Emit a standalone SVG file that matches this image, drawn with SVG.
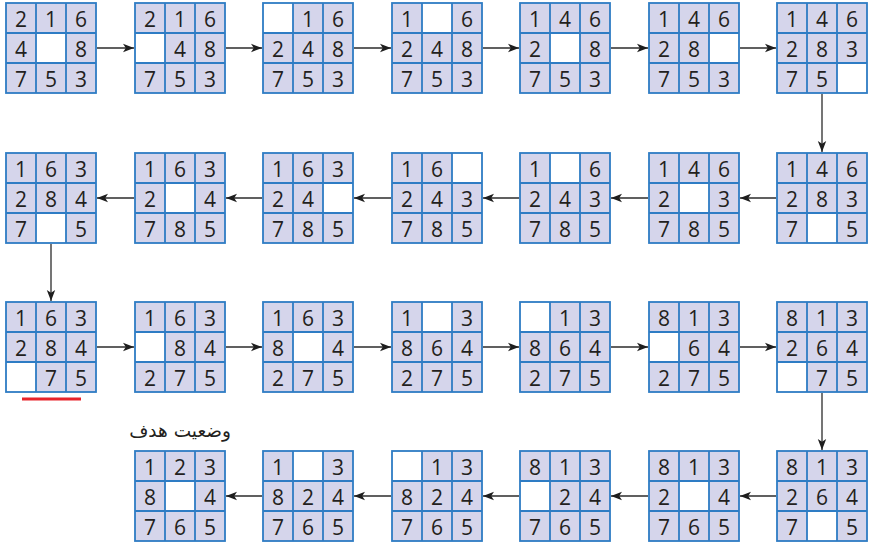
<svg xmlns="http://www.w3.org/2000/svg" xmlns:xlink="http://www.w3.org/1999/xlink" width="870" height="542" viewBox="0 0 870 542">
<style>
.bg{fill:#d5d5eb}
.bl{fill:#ffffff}
.gr{fill:none;stroke:#2e7cc4;stroke-width:1.8}
.n{font-family:"Open Sans","Noto Sans","DejaVu Sans",sans-serif;font-size:21px;fill:#231f20;text-anchor:middle}
.c{stroke:#2b2b2b;stroke-width:1.3;fill:none;marker-end:url(#ah)}
.lbl{font-family:"DejaVu Sans",sans-serif;font-size:18.5px;fill:#231f20;text-anchor:end}
</style>
<defs>
<marker id="ah" markerWidth="12" markerHeight="10" refX="11" refY="5" orient="auto" markerUnits="userSpaceOnUse">
<path d="M0,0.8 L11,5 L0,9.2 L2.8,5 z" fill="#1e1e1e"/>
</marker>
<g id="grid">
<rect class="gr" x="0" y="0" width="90" height="90"/>
<path class="gr" d="M30,0V90M60,0V90M0,30H90M0,60H90"/>
</g>
</defs>

<!-- Row 1 -->
<g id="r1c1" transform="translate(6,3)"><rect class="bg" width="90" height="90"/><rect class="bl" x="30" y="30" width="30" height="30"/><use href="#grid"/>
<text class="n" x="15" y="23.5">2</text><text class="n" x="45" y="23.5">1</text><text class="n" x="75" y="23.5">6</text>
<text class="n" x="15" y="53.5">4</text><text class="n" x="75" y="53.5">8</text>
<text class="n" x="15" y="83.5">7</text><text class="n" x="45" y="83.5">5</text><text class="n" x="75" y="83.5">3</text></g>
<g id="r1c2" transform="translate(135,3)"><rect class="bg" width="90" height="90"/><rect class="bl" x="0" y="30" width="30" height="30"/><use href="#grid"/>
<text class="n" x="15" y="23.5">2</text><text class="n" x="45" y="23.5">1</text><text class="n" x="75" y="23.5">6</text>
<text class="n" x="45" y="53.5">4</text><text class="n" x="75" y="53.5">8</text>
<text class="n" x="15" y="83.5">7</text><text class="n" x="45" y="83.5">5</text><text class="n" x="75" y="83.5">3</text></g>
<g id="r1c3" transform="translate(263,3)"><rect class="bg" width="90" height="90"/><rect class="bl" x="0" y="0" width="30" height="30"/><use href="#grid"/>
<text class="n" x="45" y="23.5">1</text><text class="n" x="75" y="23.5">6</text>
<text class="n" x="15" y="53.5">2</text><text class="n" x="45" y="53.5">4</text><text class="n" x="75" y="53.5">8</text>
<text class="n" x="15" y="83.5">7</text><text class="n" x="45" y="83.5">5</text><text class="n" x="75" y="83.5">3</text></g>
<g id="r1c4" transform="translate(392,3)"><rect class="bg" width="90" height="90"/><rect class="bl" x="30" y="0" width="30" height="30"/><use href="#grid"/>
<text class="n" x="15" y="23.5">1</text><text class="n" x="75" y="23.5">6</text>
<text class="n" x="15" y="53.5">2</text><text class="n" x="45" y="53.5">4</text><text class="n" x="75" y="53.5">8</text>
<text class="n" x="15" y="83.5">7</text><text class="n" x="45" y="83.5">5</text><text class="n" x="75" y="83.5">3</text></g>
<g id="r1c5" transform="translate(520,3)"><rect class="bg" width="90" height="90"/><rect class="bl" x="30" y="30" width="30" height="30"/><use href="#grid"/>
<text class="n" x="15" y="23.5">1</text><text class="n" x="45" y="23.5">4</text><text class="n" x="75" y="23.5">6</text>
<text class="n" x="15" y="53.5">2</text><text class="n" x="75" y="53.5">8</text>
<text class="n" x="15" y="83.5">7</text><text class="n" x="45" y="83.5">5</text><text class="n" x="75" y="83.5">3</text></g>
<g id="r1c6" transform="translate(649,3)"><rect class="bg" width="90" height="90"/><rect class="bl" x="60" y="30" width="30" height="30"/><use href="#grid"/>
<text class="n" x="15" y="23.5">1</text><text class="n" x="45" y="23.5">4</text><text class="n" x="75" y="23.5">6</text>
<text class="n" x="15" y="53.5">2</text><text class="n" x="45" y="53.5">8</text>
<text class="n" x="15" y="83.5">7</text><text class="n" x="45" y="83.5">5</text><text class="n" x="75" y="83.5">3</text></g>
<g id="r1c7" transform="translate(777,3)"><rect class="bg" width="90" height="90"/><rect class="bl" x="60" y="60" width="30" height="30"/><use href="#grid"/>
<text class="n" x="15" y="23.5">1</text><text class="n" x="45" y="23.5">4</text><text class="n" x="75" y="23.5">6</text>
<text class="n" x="15" y="53.5">2</text><text class="n" x="45" y="53.5">8</text><text class="n" x="75" y="53.5">3</text>
<text class="n" x="15" y="83.5">7</text><text class="n" x="45" y="83.5">5</text></g>

<!-- Row 2 -->
<g id="r2c1" transform="translate(6,153)"><rect class="bg" width="90" height="90"/><rect class="bl" x="30" y="60" width="30" height="30"/><use href="#grid"/>
<text class="n" x="15" y="23.5">1</text><text class="n" x="45" y="23.5">6</text><text class="n" x="75" y="23.5">3</text>
<text class="n" x="15" y="53.5">2</text><text class="n" x="45" y="53.5">8</text><text class="n" x="75" y="53.5">4</text>
<text class="n" x="15" y="83.5">7</text><text class="n" x="75" y="83.5">5</text></g>
<g id="r2c2" transform="translate(135,153)"><rect class="bg" width="90" height="90"/><rect class="bl" x="30" y="30" width="30" height="30"/><use href="#grid"/>
<text class="n" x="15" y="23.5">1</text><text class="n" x="45" y="23.5">6</text><text class="n" x="75" y="23.5">3</text>
<text class="n" x="15" y="53.5">2</text><text class="n" x="75" y="53.5">4</text>
<text class="n" x="15" y="83.5">7</text><text class="n" x="45" y="83.5">8</text><text class="n" x="75" y="83.5">5</text></g>
<g id="r2c3" transform="translate(263,153)"><rect class="bg" width="90" height="90"/><rect class="bl" x="60" y="30" width="30" height="30"/><use href="#grid"/>
<text class="n" x="15" y="23.5">1</text><text class="n" x="45" y="23.5">6</text><text class="n" x="75" y="23.5">3</text>
<text class="n" x="15" y="53.5">2</text><text class="n" x="45" y="53.5">4</text>
<text class="n" x="15" y="83.5">7</text><text class="n" x="45" y="83.5">8</text><text class="n" x="75" y="83.5">5</text></g>
<g id="r2c4" transform="translate(392,153)"><rect class="bg" width="90" height="90"/><rect class="bl" x="60" y="0" width="30" height="30"/><use href="#grid"/>
<text class="n" x="15" y="23.5">1</text><text class="n" x="45" y="23.5">6</text>
<text class="n" x="15" y="53.5">2</text><text class="n" x="45" y="53.5">4</text><text class="n" x="75" y="53.5">3</text>
<text class="n" x="15" y="83.5">7</text><text class="n" x="45" y="83.5">8</text><text class="n" x="75" y="83.5">5</text></g>
<g id="r2c5" transform="translate(520,153)"><rect class="bg" width="90" height="90"/><rect class="bl" x="30" y="0" width="30" height="30"/><use href="#grid"/>
<text class="n" x="15" y="23.5">1</text><text class="n" x="75" y="23.5">6</text>
<text class="n" x="15" y="53.5">2</text><text class="n" x="45" y="53.5">4</text><text class="n" x="75" y="53.5">3</text>
<text class="n" x="15" y="83.5">7</text><text class="n" x="45" y="83.5">8</text><text class="n" x="75" y="83.5">5</text></g>
<g id="r2c6" transform="translate(649,153)"><rect class="bg" width="90" height="90"/><rect class="bl" x="30" y="30" width="30" height="30"/><use href="#grid"/>
<text class="n" x="15" y="23.5">1</text><text class="n" x="45" y="23.5">4</text><text class="n" x="75" y="23.5">6</text>
<text class="n" x="15" y="53.5">2</text><text class="n" x="75" y="53.5">3</text>
<text class="n" x="15" y="83.5">7</text><text class="n" x="45" y="83.5">8</text><text class="n" x="75" y="83.5">5</text></g>
<g id="r2c7" transform="translate(777,153)"><rect class="bg" width="90" height="90"/><rect class="bl" x="30" y="60" width="30" height="30"/><use href="#grid"/>
<text class="n" x="15" y="23.5">1</text><text class="n" x="45" y="23.5">4</text><text class="n" x="75" y="23.5">6</text>
<text class="n" x="15" y="53.5">2</text><text class="n" x="45" y="53.5">8</text><text class="n" x="75" y="53.5">3</text>
<text class="n" x="15" y="83.5">7</text><text class="n" x="75" y="83.5">5</text></g>

<!-- Row 3 -->
<g id="r3c1" transform="translate(6,302)"><rect class="bg" width="90" height="90"/><rect class="bl" x="0" y="60" width="30" height="30"/><use href="#grid"/>
<text class="n" x="15" y="23.5">1</text><text class="n" x="45" y="23.5">6</text><text class="n" x="75" y="23.5">3</text>
<text class="n" x="15" y="53.5">2</text><text class="n" x="45" y="53.5">8</text><text class="n" x="75" y="53.5">4</text>
<text class="n" x="45" y="83.5">7</text><text class="n" x="75" y="83.5">5</text></g>
<g id="r3c2" transform="translate(135,302)"><rect class="bg" width="90" height="90"/><rect class="bl" x="0" y="30" width="30" height="30"/><use href="#grid"/>
<text class="n" x="15" y="23.5">1</text><text class="n" x="45" y="23.5">6</text><text class="n" x="75" y="23.5">3</text>
<text class="n" x="45" y="53.5">8</text><text class="n" x="75" y="53.5">4</text>
<text class="n" x="15" y="83.5">2</text><text class="n" x="45" y="83.5">7</text><text class="n" x="75" y="83.5">5</text></g>
<g id="r3c3" transform="translate(263,302)"><rect class="bg" width="90" height="90"/><rect class="bl" x="30" y="30" width="30" height="30"/><use href="#grid"/>
<text class="n" x="15" y="23.5">1</text><text class="n" x="45" y="23.5">6</text><text class="n" x="75" y="23.5">3</text>
<text class="n" x="15" y="53.5">8</text><text class="n" x="75" y="53.5">4</text>
<text class="n" x="15" y="83.5">2</text><text class="n" x="45" y="83.5">7</text><text class="n" x="75" y="83.5">5</text></g>
<g id="r3c4" transform="translate(392,302)"><rect class="bg" width="90" height="90"/><rect class="bl" x="30" y="0" width="30" height="30"/><use href="#grid"/>
<text class="n" x="15" y="23.5">1</text><text class="n" x="75" y="23.5">3</text>
<text class="n" x="15" y="53.5">8</text><text class="n" x="45" y="53.5">6</text><text class="n" x="75" y="53.5">4</text>
<text class="n" x="15" y="83.5">2</text><text class="n" x="45" y="83.5">7</text><text class="n" x="75" y="83.5">5</text></g>
<g id="r3c5" transform="translate(520,302)"><rect class="bg" width="90" height="90"/><rect class="bl" x="0" y="0" width="30" height="30"/><use href="#grid"/>
<text class="n" x="45" y="23.5">1</text><text class="n" x="75" y="23.5">3</text>
<text class="n" x="15" y="53.5">8</text><text class="n" x="45" y="53.5">6</text><text class="n" x="75" y="53.5">4</text>
<text class="n" x="15" y="83.5">2</text><text class="n" x="45" y="83.5">7</text><text class="n" x="75" y="83.5">5</text></g>
<g id="r3c6" transform="translate(649,302)"><rect class="bg" width="90" height="90"/><rect class="bl" x="0" y="30" width="30" height="30"/><use href="#grid"/>
<text class="n" x="15" y="23.5">8</text><text class="n" x="45" y="23.5">1</text><text class="n" x="75" y="23.5">3</text>
<text class="n" x="45" y="53.5">6</text><text class="n" x="75" y="53.5">4</text>
<text class="n" x="15" y="83.5">2</text><text class="n" x="45" y="83.5">7</text><text class="n" x="75" y="83.5">5</text></g>
<g id="r3c7" transform="translate(777,302)"><rect class="bg" width="90" height="90"/><rect class="bl" x="0" y="60" width="30" height="30"/><use href="#grid"/>
<text class="n" x="15" y="23.5">8</text><text class="n" x="45" y="23.5">1</text><text class="n" x="75" y="23.5">3</text>
<text class="n" x="15" y="53.5">2</text><text class="n" x="45" y="53.5">6</text><text class="n" x="75" y="53.5">4</text>
<text class="n" x="45" y="83.5">7</text><text class="n" x="75" y="83.5">5</text></g>

<!-- Row 4 -->
<g id="r4c2" transform="translate(135,451)"><rect class="bg" width="90" height="90"/><rect class="bl" x="30" y="30" width="30" height="30"/><use href="#grid"/>
<text class="n" x="15" y="23.5">1</text><text class="n" x="45" y="23.5">2</text><text class="n" x="75" y="23.5">3</text>
<text class="n" x="15" y="53.5">8</text><text class="n" x="75" y="53.5">4</text>
<text class="n" x="15" y="83.5">7</text><text class="n" x="45" y="83.5">6</text><text class="n" x="75" y="83.5">5</text></g>
<g id="r4c3" transform="translate(263,451)"><rect class="bg" width="90" height="90"/><rect class="bl" x="30" y="0" width="30" height="30"/><use href="#grid"/>
<text class="n" x="15" y="23.5">1</text><text class="n" x="75" y="23.5">3</text>
<text class="n" x="15" y="53.5">8</text><text class="n" x="45" y="53.5">2</text><text class="n" x="75" y="53.5">4</text>
<text class="n" x="15" y="83.5">7</text><text class="n" x="45" y="83.5">6</text><text class="n" x="75" y="83.5">5</text></g>
<g id="r4c4" transform="translate(392,451)"><rect class="bg" width="90" height="90"/><rect class="bl" x="0" y="0" width="30" height="30"/><use href="#grid"/>
<text class="n" x="45" y="23.5">1</text><text class="n" x="75" y="23.5">3</text>
<text class="n" x="15" y="53.5">8</text><text class="n" x="45" y="53.5">2</text><text class="n" x="75" y="53.5">4</text>
<text class="n" x="15" y="83.5">7</text><text class="n" x="45" y="83.5">6</text><text class="n" x="75" y="83.5">5</text></g>
<g id="r4c5" transform="translate(520,451)"><rect class="bg" width="90" height="90"/><rect class="bl" x="0" y="30" width="30" height="30"/><use href="#grid"/>
<text class="n" x="15" y="23.5">8</text><text class="n" x="45" y="23.5">1</text><text class="n" x="75" y="23.5">3</text>
<text class="n" x="45" y="53.5">2</text><text class="n" x="75" y="53.5">4</text>
<text class="n" x="15" y="83.5">7</text><text class="n" x="45" y="83.5">6</text><text class="n" x="75" y="83.5">5</text></g>
<g id="r4c6" transform="translate(649,451)"><rect class="bg" width="90" height="90"/><rect class="bl" x="30" y="30" width="30" height="30"/><use href="#grid"/>
<text class="n" x="15" y="23.5">8</text><text class="n" x="45" y="23.5">1</text><text class="n" x="75" y="23.5">3</text>
<text class="n" x="15" y="53.5">2</text><text class="n" x="75" y="53.5">4</text>
<text class="n" x="15" y="83.5">7</text><text class="n" x="45" y="83.5">6</text><text class="n" x="75" y="83.5">5</text></g>
<g id="r4c7" transform="translate(777,451)"><rect class="bg" width="90" height="90"/><rect class="bl" x="30" y="60" width="30" height="30"/><use href="#grid"/>
<text class="n" x="15" y="23.5">8</text><text class="n" x="45" y="23.5">1</text><text class="n" x="75" y="23.5">3</text>
<text class="n" x="15" y="53.5">2</text><text class="n" x="45" y="53.5">6</text><text class="n" x="75" y="53.5">4</text>
<text class="n" x="15" y="83.5">7</text><text class="n" x="75" y="83.5">5</text></g>

<!-- Connectors -->
<g id="connectors">
<line class="c" x1="97" y1="48" x2="134" y2="48"/>
<line class="c" x1="226" y1="48" x2="262" y2="48"/>
<line class="c" x1="354" y1="48" x2="391" y2="48"/>
<line class="c" x1="483" y1="48" x2="519" y2="48"/>
<line class="c" x1="611" y1="48" x2="648" y2="48"/>
<line class="c" x1="740" y1="48" x2="776" y2="48"/>
<line class="c" x1="822" y1="94" x2="822" y2="152"/>
<line class="c" x1="776" y1="198" x2="740" y2="198"/>
<line class="c" x1="648" y1="198" x2="611" y2="198"/>
<line class="c" x1="519" y1="198" x2="483" y2="198"/>
<line class="c" x1="391" y1="198" x2="354" y2="198"/>
<line class="c" x1="262" y1="198" x2="226" y2="198"/>
<line class="c" x1="134" y1="198" x2="97" y2="198"/>
<line class="c" x1="51" y1="244" x2="51" y2="301"/>
<line class="c" x1="97" y1="347" x2="134" y2="347"/>
<line class="c" x1="226" y1="347" x2="262" y2="347"/>
<line class="c" x1="354" y1="347" x2="391" y2="347"/>
<line class="c" x1="483" y1="347" x2="519" y2="347"/>
<line class="c" x1="611" y1="347" x2="648" y2="347"/>
<line class="c" x1="740" y1="347" x2="776" y2="347"/>
<line class="c" x1="822" y1="393" x2="822" y2="450"/>
<line class="c" x1="776" y1="496" x2="740" y2="496"/>
<line class="c" x1="648" y1="496" x2="611" y2="496"/>
<line class="c" x1="519" y1="496" x2="483" y2="496"/>
<line class="c" x1="391" y1="496" x2="354" y2="496"/>
<line class="c" x1="262" y1="496" x2="226" y2="496"/>
</g>

<line x1="22" y1="399" x2="81" y2="399" stroke="#e8232a" stroke-width="3"/>
<text class="lbl" x="231" y="437">وضعیت هدف</text>
</svg>
